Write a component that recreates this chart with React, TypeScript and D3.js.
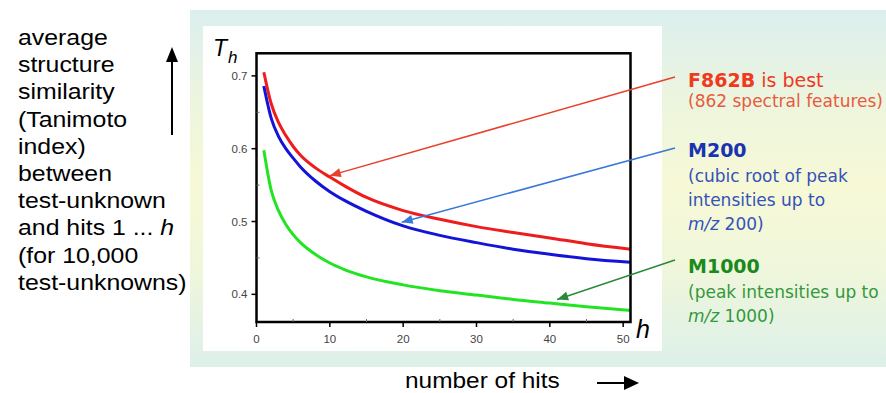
import React from "react";
import * as d3 from "d3";

// ---- data ----
const hits = [1, 2, 3, 4, 5, 6, 8, 10, 12, 15, 20, 25, 30, 35, 40, 45, 51];
const f862b = [0.705, 0.662, 0.636, 0.618, 0.603, 0.591, 0.574, 0.561, 0.549, 0.533, 0.515, 0.503, 0.493, 0.485, 0.4775, 0.4695, 0.462];
const m200 = [0.686, 0.642, 0.617, 0.6, 0.587, 0.575, 0.556, 0.541, 0.529, 0.514, 0.494, 0.481, 0.471, 0.462, 0.455, 0.449, 0.444];
const m1000 = [0.598, 0.543, 0.515, 0.496, 0.482, 0.471, 0.455, 0.443, 0.434, 0.424, 0.413, 0.405, 0.399, 0.393, 0.388, 0.383, 0.378];
const xTicks = [0, 10, 20, 30, 40, 50];
const xMinor = [5, 15, 25, 35, 45];
const yTicks = [0.4, 0.5, 0.6, 0.7];
const yMinor = [0.45, 0.55, 0.65];
const leftLabel = [
  "average",
  "structure",
  "similarity",
  "(Tanimoto",
  "index)",
  "between",
  "test-unknown",
  "and hits 1 ... ",
  "(for 10,000",
  "test-unknowns)",
];
// arrow tips in data space [h, T]
const arrowTips: [number, number][] = [
  [10, 0.563],
  [19.8, 0.499],
  [41, 0.393],
];

const W = 886;
const H = 393;

export default function App() {
  const x = d3.scaleLinear().domain([0, 51]).range([256.5, 630.5]);
  const y = d3.scaleLinear().domain([0.362, 0.731]).range([322, 53.3]);
  const line = d3
    .line<number>()
    .x((_, i) => x(hits[i]))
    .y((d) => y(d))
    .curve(d3.curveMonotoneX);

  const series = [
    { v: f862b, c: "#ee1c1c" },
    { v: m200, c: "#1414d8" },
    { v: m1000, c: "#22e422" },
  ];
  const arrowStarts: [number, number][] = [
    [675, 77],
    [675, 148],
    [675, 260],
  ];
  const arrowColors = ["#e8402c", "#3a78d8", "#2a8a3a"];

  const arrowHead = (sx: number, sy: number, tx: number, ty: number) => {
    const ang = Math.atan2(ty - sy, tx - sx);
    const L = 11;
    const hw = 4.5;
    const bx = tx - L * Math.cos(ang);
    const by = ty - L * Math.sin(ang);
    const px = -Math.sin(ang) * hw;
    const py = Math.cos(ang) * hw;
    return `${tx},${ty} ${bx + px},${by + py} ${bx - px},${by - py}`;
  };

  const legFont = "'DejaVu Sans', Verdana, sans-serif";
  const arial = "'Liberation Sans', Arial, sans-serif";

  return (
    <svg
      width={W}
      height={H}
      style={{ position: "absolute", left: 0, top: 0, background: "#fff" }}
    >
      <defs>
        <linearGradient id="bg" x1="0" y1="0" x2="0" y2="1">
          <stop offset="0" stopColor="#dbefef" />
          <stop offset="0.25" stopColor="#ecf5de" />
          <stop offset="0.5" stopColor="#f7f9d6" />
          <stop offset="0.75" stopColor="#eef6dc" />
          <stop offset="1" stopColor="#dcf0ea" />
        </linearGradient>
      </defs>
      <rect x={190} y={10} width={696} height={357} fill="url(#bg)" />
      <rect x={203} y={26} width={459} height={325} fill="#ffffff" />

      {/* left label */}
      <g transform="translate(18,0) scale(1.13,1)">
        <text fontFamily={arial} fontSize={22} fill="#000">
          {leftLabel.map((t, i) => (
            <tspan key={i} x={0} y={45 + i * 27.2}>
              {t}
              {i === 7 ? <tspan fontStyle="italic">h</tspan> : null}
            </tspan>
          ))}
        </text>
      </g>
      {/* up arrow */}
      <line x1={172} y1={135} x2={172} y2={60} stroke="#000" strokeWidth={2} />
      <polygon points="172,47 166,62 178,62" fill="#000" />

      {/* bottom label */}
      <g transform="translate(405,0) scale(1.11,1)">
        <text x={0} y={388} fontFamily={arial} fontSize={22} fill="#000">
          number of hits
        </text>
      </g>
      <line x1={597} y1={383} x2={626} y2={383} stroke="#000" strokeWidth={2} />
      <polygon points="639,383 624,376 624,390" fill="#000" />

      {/* curves */}
      {series.map((s, i) => (
        <path key={i} d={line(s.v) || ""} fill="none" stroke={s.c} strokeWidth={3} />
      ))}

      {/* frame */}
      <rect
        x={x(0)}
        y={y(0.731)}
        width={x(51) - x(0)}
        height={y(0.362) - y(0.731)}
        fill="none"
        stroke="#000"
        strokeWidth={2.5}
      />

      {/* y ticks */}
      {yTicks.map((t) => (
        <g key={t}>
          <line x1={x(0) - 5} x2={x(0)} y1={y(t)} y2={y(t)} stroke="#000" strokeWidth={1.5} />
          <text
            x={x(0) - 9}
            y={y(t)}
            dy="0.36em"
            textAnchor="end"
            fontFamily={arial}
            fontSize={11.5}
            fill="#444"
          >
            {d3.format(".1f")(t)}
          </text>
        </g>
      ))}
      {yMinor.map((t) => (
        <line key={t} x1={x(0)} x2={x(0) + 3} y1={y(t)} y2={y(t)} stroke="#666" strokeWidth={1} />
      ))}
      {/* x ticks */}
      {xTicks.map((t) => (
        <g key={t}>
          <line x1={x(t)} x2={x(t)} y1={y(0.362)} y2={y(0.362) + 5} stroke="#000" strokeWidth={1.5} />
          <text
            x={x(t)}
            y={343}
            textAnchor="middle"
            fontFamily={arial}
            fontSize={11.5}
            fill="#444"
          >
            {t}
          </text>
        </g>
      ))}
      {xMinor.map((t) => (
        <line key={t} x1={x(t)} x2={x(t)} y1={y(0.362) - 3} y2={y(0.362)} stroke="#666" strokeWidth={1} />
      ))}

      {/* axis titles */}
      <text x={213} y={56} fontFamily={arial} fontSize={23} fontStyle="italic" fill="#000">
        T
      </text>
      <text x={228} y={63} fontFamily={arial} fontSize={17} fontStyle="italic" fill="#000">
        h
      </text>
      <text x={636} y={338} fontFamily={arial} fontSize={25} fontStyle="italic" fill="#000">
        h
      </text>

      {/* arrows */}
      {arrowTips.map((tp, i) => {
        const [sx, sy] = arrowStarts[i];
        const tx = x(tp[0]);
        const ty = y(tp[1]);
        return (
          <g key={i}>
            <line x1={sx} y1={sy} x2={tx} y2={ty} stroke={arrowColors[i]} strokeWidth={1.5} />
            <polygon points={arrowHead(sx, sy, tx, ty)} fill={arrowColors[i]} />
          </g>
        );
      })}

      {/* legend text */}
      <text fontFamily={legFont} fontSize={17}>
        <tspan x={688} y={87} fill="#ee3a1e">
          <tspan fontWeight="bold" fontSize={19}>F862B</tspan>
          <tspan fontSize={19}> is best</tspan>
        </tspan>
        <tspan x={688} y={107} fill="#e85a40">(862 spectral features)</tspan>
        <tspan x={688} y={157} fill="#1a34b0" fontWeight="bold" fontSize={19}>M200</tspan>
        <tspan x={688} y={182} fill="#3452b8">(cubic root of peak</tspan>
        <tspan x={688} y={206} fill="#3452b8">intensities up to</tspan>
        <tspan x={688} y={230} fill="#3452b8">
          <tspan fontStyle="italic">m/z</tspan> 200)
        </tspan>
        <tspan x={688} y={273} fill="#1a8a1e" fontWeight="bold" fontSize={19}>M1000</tspan>
        <tspan x={688} y={298} fill="#34983c">(peak intensities up to</tspan>
        <tspan x={688} y={322} fill="#34983c">
          <tspan fontStyle="italic">m/z</tspan> 1000)
        </tspan>
      </text>
    </svg>
  );
}
